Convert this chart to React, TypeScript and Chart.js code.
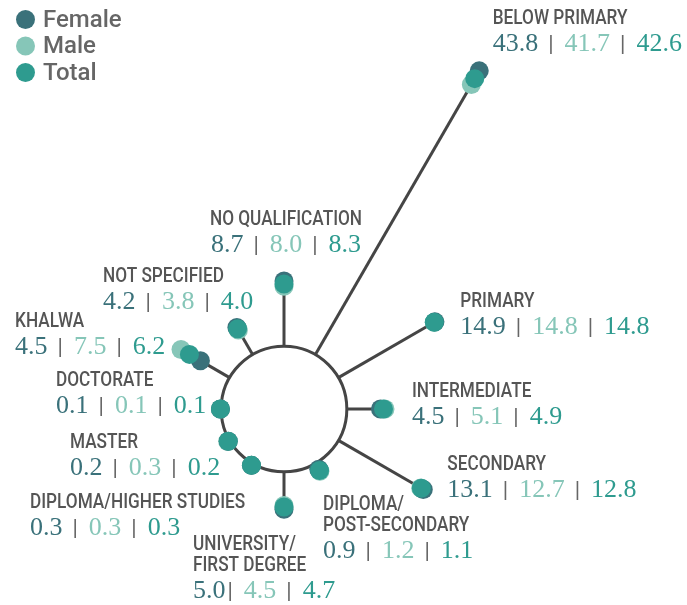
import React, { useEffect, useRef } from 'react';
import { Chart, registerables } from 'chart.js';

Chart.register(...registerables);

// ---- data (clockwise from the top) ----
const CATEGORIES: (string | string[])[] = [
  'NO QUALIFICATION',
  'BELOW PRIMARY',
  'PRIMARY',
  'INTERMEDIATE',
  'SECONDARY',
  ['DIPLOMA/', 'POST-SECONDARY'],
  ['UNIVERSITY/', 'FIRST DEGREE'],
  'DIPLOMA/HIGHER STUDIES',
  'MASTER',
  'DOCTORATE',
  'KHALWA',
  'NOT SPECIFIED',
];
const FEMALE = [8.7, 43.8, 14.9, 4.5, 13.1, 0.9, 5.0, 0.3, 0.2, 0.1, 4.5, 4.2];
const MALE = [8.0, 41.7, 14.8, 5.1, 12.7, 1.2, 4.5, 0.3, 0.3, 0.1, 7.5, 3.8];
const TOTAL = [8.3, 42.6, 14.8, 4.9, 12.8, 1.1, 4.7, 0.3, 0.2, 0.1, 6.2, 4.0];
const SERIES_NAMES = ['Female', 'Male', 'Total'];

// ---- styles ----
const C_FEMALE = '#3a717a';
const C_MALE = '#86c6b8';
const C_TOTAL = '#2e9b8f';
const LINE_COLOR = '#454545';
const TITLE_COLOR = '#555555';
const PIPE_COLOR = '#666666';
const R_MIN = -8.4;
const R_MAX = 19.14;
const CONDENSE = 0.86;
const TITLE_FONT = '500 20px Roboto';
const VALUE_FONT = '26px "Liberation Serif"';
const PIPE_FONT = '22px Roboto';
const TITLE_LINE = 21;
const VALUE_GAP = 27;

// label block placement relative to the Total point of each spoke
const LABEL_LAYOUT = [
  { dx: 2, dy: -59, align: 'center' },
  { dx: 18, dy: -55, align: 'left' },
  { dx: 26, dy: -15, align: 'left' },
  { dx: 28.5, dy: -12, align: 'left' },
  { dx: 26, dy: -18, align: 'left' },
  { dx: 3.5, dy: 39.5, align: 'left' },
  { dx: -91, dy: 43, align: 'left', tight: true },
  { dx: -221.5, dy: 42.6, align: 'left' },
  { dx: -158.3, dy: 6.8, align: 'left' },
  { dx: -164.4, dy: -23, align: 'left' },
  { dx: -174.4, dy: -27.4, align: 'left' },
  { dx: -134.6, dy: -46.7, align: 'left' },
];

function drawCondensed(ctx: CanvasRenderingContext2D, text: string, x: number, y: number, align: string) {
  const w = ctx.measureText(text).width * CONDENSE;
  const x0 = align === 'center' ? x - w / 2 : x;
  ctx.save();
  ctx.translate(x0, y);
  ctx.scale(CONDENSE, 1);
  ctx.textAlign = 'left';
  ctx.fillText(text, 0, 0);
  ctx.restore();
}

const spokesPlugin = {
  id: 'spokes',
  beforeDatasetsDraw(chart: any) {
    const s = chart.scales.r;
    const ctx = chart.ctx as CanvasRenderingContext2D;
    ctx.save();
    ctx.strokeStyle = LINE_COLOR;
    ctx.lineWidth = 3;
    TOTAL.forEach((v, i) => {
      const a = s.getPointPositionForValue(i, 0);
      const b = s.getPointPositionForValue(i, v);
      ctx.beginPath();
      ctx.moveTo(a.x, a.y);
      ctx.lineTo(b.x, b.y);
      ctx.stroke();
    });
    ctx.restore();
  },
};

const labelsPlugin = {
  id: 'spokeLabels',
  afterDatasetsDraw(chart: any) {
    const s = chart.scales.r;
    const ctx = chart.ctx as CanvasRenderingContext2D;
    ctx.save();
    ctx.textBaseline = 'alphabetic';
    CATEGORIES.forEach((cat, i) => {
      const lay: any = LABEL_LAYOUT[i];
      const p = s.getPointPositionForValue(i, TOTAL[i]);
      const x = p.x + lay.dx;
      let y = p.y + lay.dy;
      const lines = Array.isArray(cat) ? cat : [cat];
      ctx.font = TITLE_FONT;
      ctx.fillStyle = TITLE_COLOR;
      lines.forEach((ln, k) => {
        if (k > 0) y += TITLE_LINE;
        drawCondensed(ctx, ln, x, y, lay.align);
      });
      const vy = y + VALUE_GAP;
      const nums = [
        { t: FEMALE[i].toFixed(1), c: C_FEMALE },
        { t: MALE[i].toFixed(1), c: C_MALE },
        { t: TOTAL[i].toFixed(1), c: C_TOTAL },
      ];
      ctx.font = VALUE_FONT;
      const numW = nums.map((n) => ctx.measureText(n.t).width);
      ctx.font = PIPE_FONT;
      const pipeW = ctx.measureText('|').width;
      const gaps = [
        [lay.tight ? 2 : 10, 11],
        [10, 11],
      ];
      const total =
        numW[0] + numW[1] + numW[2] + gaps[0][0] + gaps[0][1] + gaps[1][0] + gaps[1][1] + 2 * pipeW;
      let cx = lay.align === 'center' ? x - total / 2 : x;
      ctx.textAlign = 'left';
      nums.forEach((n, k) => {
        ctx.font = VALUE_FONT;
        ctx.fillStyle = n.c;
        ctx.fillText(n.t, cx, vy);
        cx += numW[k];
        if (k < 2) {
          cx += gaps[k][0];
          ctx.font = PIPE_FONT;
          ctx.fillStyle = PIPE_COLOR;
          ctx.fillText('|', cx, vy);
          cx += pipeW + gaps[k][1];
        }
      });
    });
    ctx.restore();
  },
};

const legendPlugin = {
  id: 'customLegend',
  afterDraw(chart: any) {
    const ctx = chart.ctx as CanvasRenderingContext2D;
    ctx.save();
    chart.data.datasets.forEach((ds: any, i: number) => {
      const cy = 19.5 + i * 26.5;
      ctx.beginPath();
      ctx.arc(25.5, cy, 9.5, 0, Math.PI * 2);
      ctx.fillStyle = ds.pointBackgroundColor;
      ctx.fill();
      ctx.font = '500 24px Roboto';
      ctx.fillStyle = '#666666';
      ctx.textBaseline = 'alphabetic';
      ctx.textAlign = 'left';
      ctx.fillText(ds.label, 43, cy + 7.3);
    });
    ctx.restore();
  },
};

export default function App() {
  const ref = useRef<HTMLCanvasElement | null>(null);
  useEffect(() => {
    if (!ref.current) return;
    const mk = (label: string, data: number[], color: string, order: number) => ({
      label,
      data,
      order,
      showLine: false,
      fill: false,
      borderWidth: 0,
      pointRadius: 9.5,
      pointHoverRadius: 9.5,
      pointBorderWidth: 0,
      pointBackgroundColor: color,
      pointBorderColor: color,
      backgroundColor: color,
      borderColor: color,
      clip: false,
    });
    const chart = new Chart(ref.current, {
      type: 'radar',
      data: {
        labels: CATEGORIES as any,
        datasets: [
          mk(SERIES_NAMES[0], FEMALE, C_FEMALE, 2),
          mk(SERIES_NAMES[1], MALE, C_MALE, 3),
          mk(SERIES_NAMES[2], TOTAL, C_TOTAL, 1),
        ] as any,
      },
      options: {
        responsive: true,
        maintainAspectRatio: false,
        animation: false,
        events: [],
        layout: { padding: { left: 78, top: 50, right: 197, bottom: 12 } },
        plugins: {
          legend: { display: false },
          tooltip: { enabled: false },
        },
        scales: {
          r: {
            min: R_MIN,
            max: R_MAX,
            ticks: { display: false },
            pointLabels: { display: false },
            angleLines: { display: false },
            grid: {
              circular: true,
              lineWidth: 3,
              color: (c: any) => (c.tick && c.tick.value === 0 ? LINE_COLOR : 'rgba(0,0,0,0)'),
            },
            afterBuildTicks: (scale: any) => {
              scale.ticks = [{ value: R_MIN }, { value: 0 }];
            },
          } as any,
        },
      },
      plugins: [spokesPlugin, labelsPlugin, legendPlugin],
    });
    return () => chart.destroy();
  }, []);
  return (
    <div style={{ position: 'absolute', left: 0, top: 0, width: 687, height: 605, overflow: 'hidden', background: '#fff' }}>
      <div style={{ position: 'relative', width: 687, height: 780 }}>
        <canvas ref={ref} />
      </div>
    </div>
  );
}
